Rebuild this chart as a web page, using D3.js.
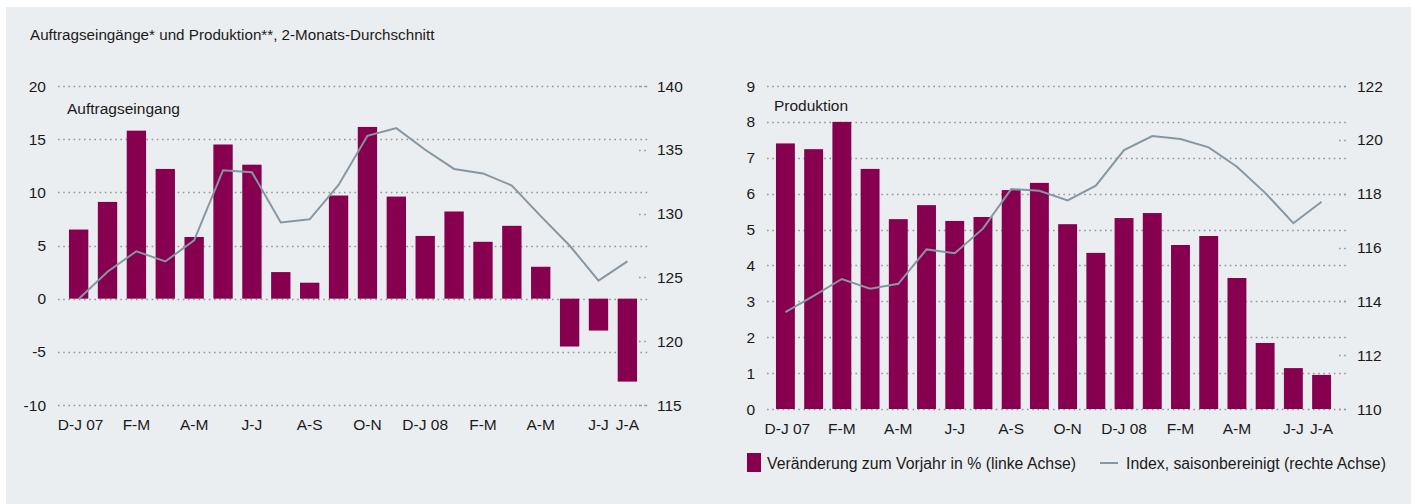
<!DOCTYPE html>
<html>
<head>
<meta charset="utf-8">
<script src="https://cdn.jsdelivr.net/npm/d3@7"></script>
<style>
  body { margin: 0; background: #fff; }
  text { font-family: "Liberation Sans", Arial, sans-serif; fill: #1a1a1a; }
</style>
</head>
<body>
<script>
// two-month periods, only every second one is labelled
const periodKeys = d3.range(20);
const tickLabels = ["D-J 07","","F-M","","A-M","","J-J","","A-S","","O-N","","D-J 08","","F-M","","A-M","","J-J","J-A"];

// Auftragseingang
const ordersChange = [6.5, 9.1, 15.8, 12.2, 5.8, 14.5, 12.6, 2.5, 1.5, 9.7,
  16.15, 9.6, 5.9, 8.2, 5.35, 6.85, 3.0, -4.5, -3.0, -7.8];
const ordersIndex = [123.3, 125.45, 127.05, 126.25, 127.9, 133.4, 133.25, 129.3, 129.55, 132.25,
  136.1, 136.7, 135.0, 133.5, 133.15, 132.2, 129.8, 127.5, 124.75, 126.25];

// Produktion
const prodChange = [7.4, 7.24, 8.0, 6.69, 5.29, 5.68, 5.24, 5.35, 6.1, 6.3,
  5.15, 4.35, 5.32, 5.46, 4.57, 4.82, 3.65, 1.84, 1.14, 0.95];
const prodIndex = [113.6, 114.2, 114.83, 114.47, 114.65, 115.93, 115.79, 116.7, 118.17, 118.11,
  117.75, 118.3, 119.62, 120.14, 120.03, 119.72, 119.0, 118.03, 116.9, 117.7];

const W = 1415, H = 504;
const barColor = "#86004f";
const lineColor = "#8797a1";
const gridColor = "#8c99a1";

const svg = d3.select("body").append("svg")
  .attr("width", W)
  .attr("height", H);

svg.append("rect")
  .attr("x", 6).attr("y", 7)
  .attr("width", 1405).attr("height", H - 7)
  .attr("fill", "#ebeef1");

svg.append("text")
  .attr("x", 30).attr("y", 40)
  .style("font-size", "15.2px")
  .text("Auftragseingänge* und Produktion**, 2-Monats-Durchschnitt");

function drawPanel(cfg) {
  const g = svg.append("g");

  const x = d3.scaleBand()
    .domain(periodKeys)
    .range(cfg.xRange)
    .paddingInner(0.33)
    .paddingOuter(0.3);

  const yL = d3.scaleLinear().domain(cfg.leftDomain).range([cfg.yBottom, cfg.yTop]);
  const yR = d3.scaleLinear().domain(cfg.rightDomain).range([cfg.yBottom, cfg.yTop]);

  // gridlines at left ticks
  g.selectAll(".grid")
    .data(cfg.leftTicks)
    .enter()
      .append("line")
      .attr("x1", cfg.gridX[0]).attr("x2", cfg.gridX[1])
      .attr("y1", d => Math.round(yL(d)) + 0.5)
      .attr("y2", d => Math.round(yL(d)) + 0.5)
      .attr("stroke", gridColor)
      .attr("stroke-width", 1.6)
      .attr("stroke-dasharray", "1.6,3.6");

  // short dotted stubs for right axis ticks
  g.selectAll(".stub")
    .data(cfg.rightTicks)
    .enter()
      .append("line")
      .attr("x1", cfg.gridX[1] - 9).attr("x2", cfg.gridX[1])
      .attr("y1", d => Math.round(yR(d)) + 0.5)
      .attr("y2", d => Math.round(yR(d)) + 0.5)
      .attr("stroke", gridColor)
      .attr("stroke-width", 1.6)
      .attr("stroke-dasharray", "1.6,3.6");

  // left axis labels
  g.selectAll(".ly")
    .data(cfg.leftTicks)
    .enter()
      .append("text")
      .attr("x", cfg.gridX[0] - 12)
      .attr("y", d => yL(d) + 5.5)
      .attr("text-anchor", "end")
      .style("font-size", "15.5px")
      .text(d => d);

  // right axis labels
  g.selectAll(".ry")
    .data(cfg.rightTicks)
    .enter()
      .append("text")
      .attr("x", cfg.gridX[1] + 9)
      .attr("y", d => yR(d) + 5.5)
      .style("font-size", "15.5px")
      .text(d => d);

  // bars
  g.selectAll(".bar")
    .data(cfg.bars)
    .enter()
      .append("rect")
      .attr("x", (d, i) => x(i))
      .attr("width", x.bandwidth())
      .attr("y", d => yL(Math.max(0, d)))
      .attr("height", d => Math.abs(yL(d) - yL(0)))
      .attr("fill", barColor);

  // index line
  const line = d3.line()
    .x((d, i) => x(i) + x.bandwidth() / 2)
    .y(d => yR(d));

  g.append("path")
    .datum(cfg.line)
    .attr("d", line)
    .attr("fill", "none")
    .attr("stroke", lineColor)
    .attr("stroke-width", 2);

  // x labels
  g.selectAll(".xl")
    .data(tickLabels)
    .enter()
      .append("text")
      .attr("x", (d, i) => x(i) + x.bandwidth() / 2 + (i === 0 ? 2 : 0))
      .attr("y", cfg.yBottom + 25)
      .attr("text-anchor", "middle")
      .style("font-size", "15.5px")
      .text(d => d);

  g.append("text")
    .attr("x", cfg.labelX).attr("y", cfg.labelY)
    .style("font-size", "15.5px")
    .text(cfg.label);
}

drawPanel({
  xRange: [60.3, 645.7],
  gridX: [58, 648],
  yTop: 86, yBottom: 405,
  leftDomain: [-10, 20], rightDomain: [115, 140],
  leftTicks: [20, 15, 10, 5, 0, -5, -10],
  rightTicks: [140, 135, 130, 125, 120, 115],
  bars: ordersChange, line: ordersIndex,
  label: "Auftragseingang", labelX: 67, labelY: 114
});

drawPanel({
  xRange: [767.5, 1339.5],
  gridX: [767, 1348],
  yTop: 86, yBottom: 409,
  leftDomain: [0, 9], rightDomain: [110, 122],
  leftTicks: [9, 8, 7, 6, 5, 4, 3, 2, 1, 0],
  rightTicks: [122, 120, 118, 116, 114, 112, 110],
  bars: prodChange, line: prodIndex,
  label: "Produktion", labelX: 774, labelY: 111
});

// legend
const legend = svg.append("g");
legend.append("rect")
  .attr("x", 747).attr("y", 453)
  .attr("width", 14).attr("height", 19)
  .attr("fill", barColor);
legend.append("text")
  .attr("x", 767).attr("y", 468.5)
  .style("font-size", "15.8px")
  .text("Veränderung zum Vorjahr in % (linke Achse)");
legend.append("line")
  .attr("x1", 1100).attr("x2", 1118)
  .attr("y1", 463).attr("y2", 463)
  .attr("stroke", lineColor)
  .attr("stroke-width", 2);
legend.append("text")
  .attr("x", 1126).attr("y", 468.5)
  .style("font-size", "15.8px")
  .text("Index, saisonbereinigt (rechte Achse)");
</script>
</body>
</html>
